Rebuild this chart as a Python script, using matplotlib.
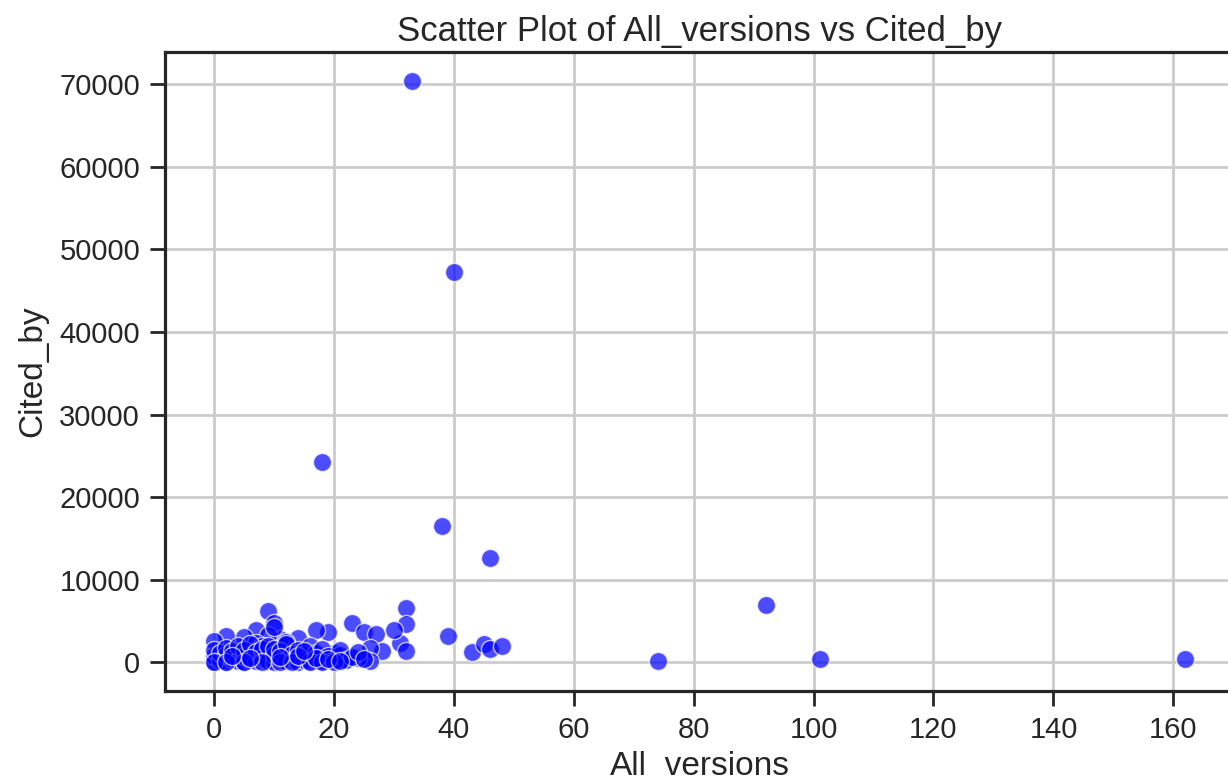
import matplotlib
matplotlib.use("Agg")
import matplotlib.pyplot as plt
import seaborn as sns

# All_versions / Cited_by pairs
all_versions = [
    33, 40, 18, 38, 46, 92, 74, 101, 162,
    9, 32, 32, 23, 10, 39, 43, 45, 46, 48, 31, 32, 30, 25, 27, 19, 17,
    7, 5, 2, 0, 11, 14, 9, 28, 26, 26, 24, 22, 20, 20, 12, 7, 8, 10,
    0, 0, 0, 1, 1, 2, 2, 2, 3, 3, 4, 4, 5, 5, 5, 6, 6, 7, 7, 8, 8,
    9, 9, 10, 10, 10, 11, 11, 12, 12, 13, 13, 14, 14, 15, 15, 16, 16,
    17, 17, 18, 18, 19, 20, 21, 21, 22, 23, 24, 25,
    0, 2, 5, 8, 11, 13, 16, 18, 20, 3, 6, 11, 14, 17, 19, 15, 21,
]
cited_by = [
    70400, 47300, 24300, 16500, 12600, 6900, 150, 400, 400,
    6200, 6550, 4650, 4800, 4700, 3150, 1200, 2200, 1550, 1950, 2350, 1350, 3900, 3700, 3400, 3700, 3950,
    3900, 3100, 3200, 2600, 2800, 2900, 3300, 1300, 1700, 150, 500, 350, 500, 1100, 2500, 2300, 1900, 4200,
    50, 800, 1500, 300, 1100, 60, 900, 1700, 400, 1300, 100, 2000, 50, 700, 1500, 300, 2200, 100, 1200, 500, 1600,
    80, 2000, 60, 900, 1600, 400, 1300, 100, 2200, 200, 1000, 50, 1500, 300, 900, 100, 1900,
    200, 1100, 80, 1600, 700, 200, 900, 1500, 300, 600, 1200, 400,
    20, 30, 40, 30, 60, 20, 40, 30, 50, 700, 500, 600, 700, 500, 400, 1300, 100,
]

sns.set_theme(style="ticks", context="talk")
plt.rcParams['font.family'] = ['Liberation Sans', 'DejaVu Sans']

fig = plt.figure(figsize=(12.28, 7.78), dpi=100)
# right edge of the axes runs past the canvas
ax = fig.add_axes([0.1344, 0.1118, 0.8705, 0.8214])

ax.scatter(all_versions, cited_by, s=170, color='blue', alpha=0.7,
           edgecolors='white', linewidths=1, zorder=3)

ax.grid(True, color='#cccccc', linewidth=2)
ax.set_axisbelow(True)
for side in ax.spines.values():
    side.set_linewidth(2.3)
    side.set_color('#262626')
ax.tick_params(length=11, width=2, labelsize=21, pad=7)

ax.set_title("Scatter Plot of All_versions vs Cited_by", fontsize=25, pad=8)
ax.set_xlabel("All_versions", fontsize=24, labelpad=5)
ax.set_ylabel("Cited_by", fontsize=24, labelpad=8)

fig.savefig("out.png", dpi=100)
